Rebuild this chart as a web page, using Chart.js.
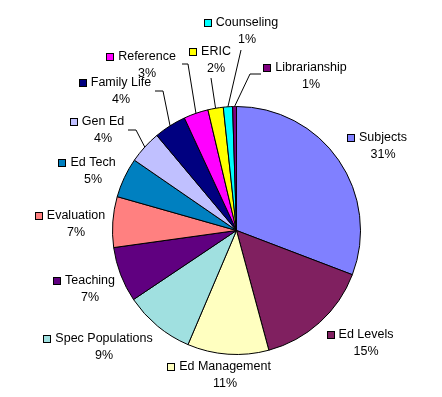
<!DOCTYPE html>
<html>
<head>
<meta charset="utf-8">
<script src="https://cdn.jsdelivr.net/npm/chart.js@4.4.1/dist/chart.umd.min.js"></script>
<style>
  html, body { margin: 0; padding: 0; background: #fff; }
  #wrap { width: 442px; height: 397px; position: relative; }
</style>
</head>
<body>
<div id="wrap"><canvas id="pieChart"></canvas></div>
<script>
// ---- data (clockwise from 12 o'clock) ----
const categories = [
  "Subjects", "Ed Levels", "Ed Management", "Spec Populations", "Teaching",
  "Evaluation", "Ed Tech", "Gen Ed", "Family Life", "Reference",
  "ERIC", "Counseling", "Librarianship"
];
const shares = [30.8, 15.0, 10.6, 9.2, 7.2, 6.6, 5.2, 4.3, 4.2, 3.2, 2.0, 1.2, 0.5];
const pctLabels = ["31%", "15%", "11%", "9%", "7%", "7%", "5%", "4%", "4%", "3%", "2%", "1%", "1%"];

const sliceColors = [
  "#8080FF", "#802060", "#FFFFC0", "#A0E0E0", "#600080",
  "#FF8080", "#0080C0", "#C0C0FF", "#000080", "#FF00FF",
  "#FFFF00", "#00FFFF", "#800080"
];

// label layout: centre of the name text, and leader line points (pie end is computed)
const labelLayout = [
  { x: 383, y: 138 },
  { x: 366, y: 335 },
  { x: 225, y: 367 },
  { x: 104, y: 339 },
  { x: 90,  y: 281 },
  { x: 76,  y: 216 },
  { x: 93,  y: 163 },
  { x: 103, y: 122, leader: [[128, 130], [136, 130]] },
  { x: 121, y: 83,  leader: [[155, 91], [163, 91]] },
  { x: 147, y: 57,  leader: [[182, 64], [188, 64]] },
  { x: 216, y: 52,  leader: [[211, 78]] },
  { x: 247, y: 23,  leader: [[241, 50]] },
  { x: 311, y: 68,  leader: [[261, 74], [250, 74]] }
];

const FONT = "12.5px 'Liberation Sans', Arial, sans-serif";
const LINE_GAP = 16.5;

// custom labels with legend key + leader lines
const pieLabels = {
  id: "pieLabels",
  afterDraw(chart) {
    const ctx = chart.ctx;
    const arcs = chart.getDatasetMeta(0).data;
    ctx.save();
    ctx.font = FONT;
    ctx.textBaseline = "middle";
    ctx.textAlign = "center";

    arcs.forEach((arc, i) => {
      const p = arc.getProps(["x", "y", "startAngle", "endAngle", "outerRadius"], true);
      const lay = labelLayout[i];

      // leader line
      if (lay.leader) {
        const mid = (p.startAngle + p.endAngle) / 2;
        const ex = p.x + Math.cos(mid) * p.outerRadius;
        const ey = p.y + Math.sin(mid) * p.outerRadius;
        ctx.beginPath();
        ctx.strokeStyle = "#000";
        ctx.lineWidth = 1;
        ctx.moveTo(lay.leader[0][0], lay.leader[0][1]);
        for (let k = 1; k < lay.leader.length; k++) ctx.lineTo(lay.leader[k][0], lay.leader[k][1]);
        ctx.lineTo(ex, ey);
        ctx.stroke();
      }

      // name + key
      const name = categories[i];
      const w = ctx.measureText(name).width;
      ctx.fillStyle = "#000";
      ctx.fillText(name, lay.x, lay.y);
      const kx = Math.round(lay.x - w / 2 - 12) + 0.5;
      const ky = Math.round(lay.y - 4) + 0.5;
      ctx.fillStyle = sliceColors[i];
      ctx.fillRect(kx, ky, 7, 7);
      ctx.strokeStyle = "#000";
      ctx.lineWidth = 1;
      ctx.strokeRect(kx, ky, 7, 7);

      // percent
      ctx.fillStyle = "#000";
      ctx.fillText(pctLabels[i], lay.x, lay.y + LINE_GAP);
    });
    ctx.restore();
  }
};

const ctx = document.getElementById("pieChart").getContext("2d");
new Chart(ctx, {
  type: "pie",
  data: {
    labels: categories,
    datasets: [{
      data: shares,
      backgroundColor: sliceColors,
      borderColor: "#000",
      borderWidth: 1
    }]
  },
  options: {
    responsive: true,
    maintainAspectRatio: false,
    animation: false,
    layout: { padding: { left: 112, top: 106, right: 81, bottom: 42 } },
    plugins: { legend: { display: false }, tooltip: { enabled: false } }
  },
  plugins: [pieLabels]
});
</script>
</body>
</html>
